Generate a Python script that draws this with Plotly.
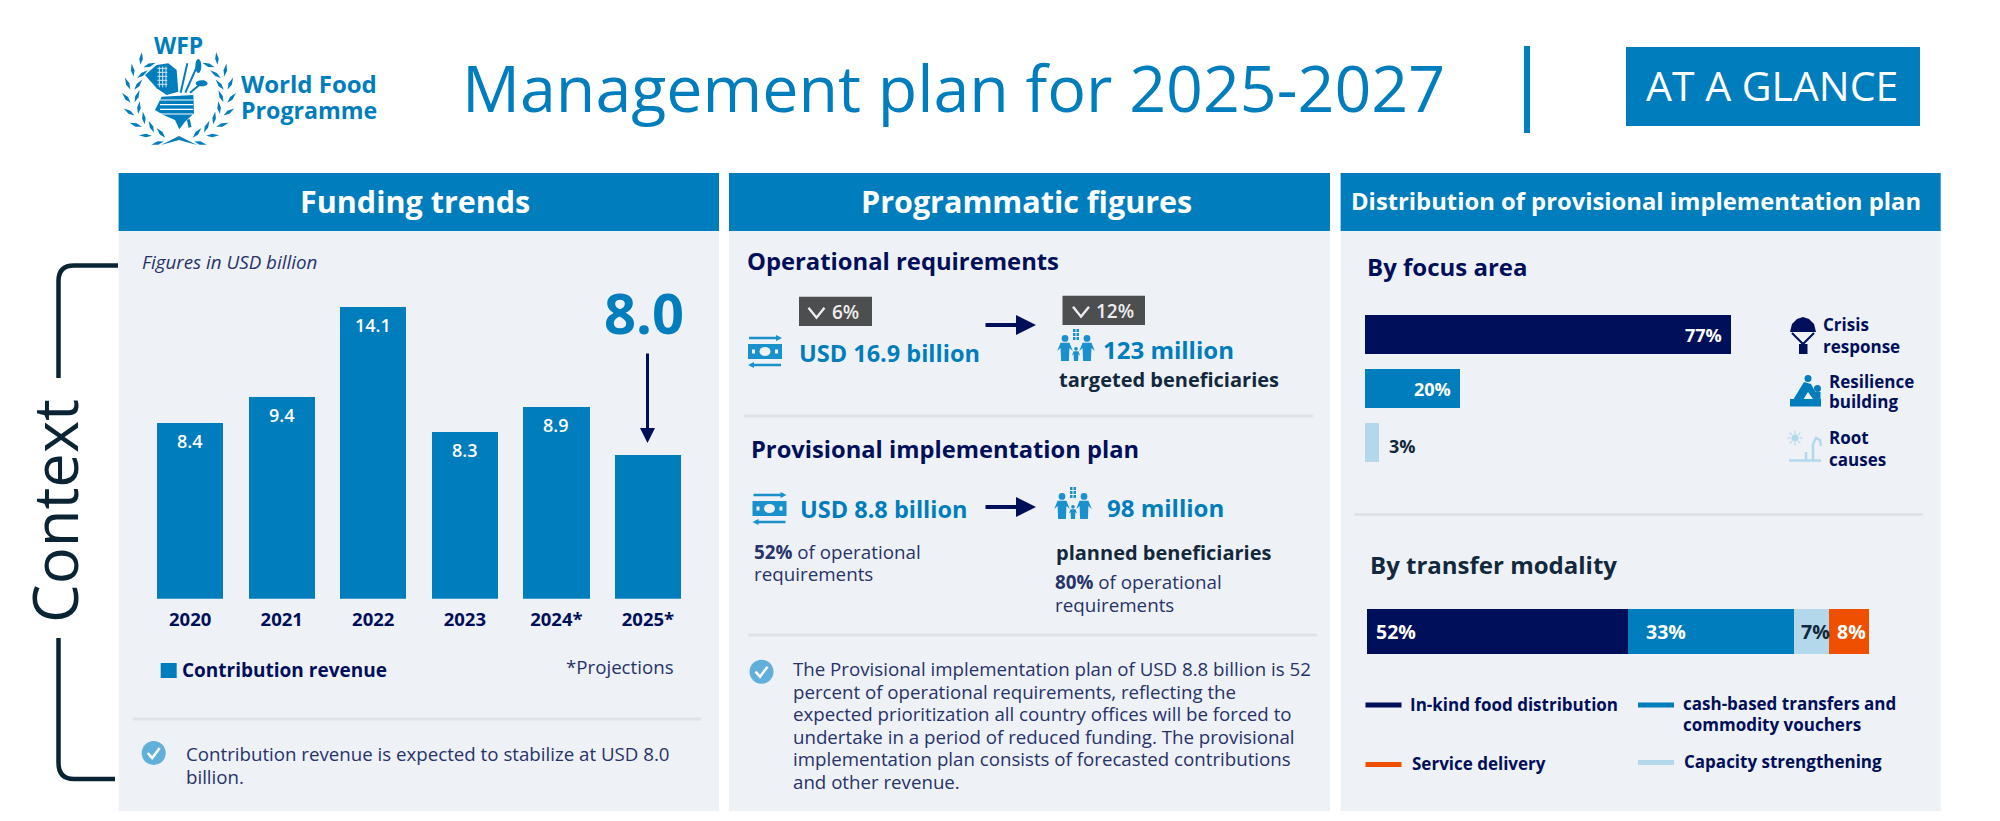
import numpy as np
import plotly.graph_objects as go

W, H = 2000, 821

# funding trends: bar heights as drawn, labels as printed (bars are not to scale in the source)
years = ['2020', '2021', '2022', '2023', '2024*', '2025*']
revenue_heights = [8.5, 9.76, 14.08, 8.04, 9.25, 6.93]
revenue_labels = ['8.4', '9.4', '14.1', '8.3', '8.9', '']
projected_2025 = '8.0'

# focus areas
focus_names = ['Crisis response', 'Resilience building', 'Root causes']
focus_share = [77, 20, 3]

# transfer modality
modality_names = ['In-kind food distribution', 'cash-based transfers and commodity vouchers',
                  'Capacity strengthening', 'Service delivery']
modality_share = [52, 33, 7, 8]

paragraph_lines = [
    'The Provisional implementation plan of USD 8.8 billion is 52',
    'percent of operational requirements, reflecting the',
    'expected prioritization all country offices will be forced to',
    'undertake in a period of reduced funding. The provisional',
    'implementation plan consists of forecasted contributions',
    'and other revenue.',
]

BLUE = '#007dbc'
NAVY = '#000f5a'
LIGHT = '#b3d8ec'
ORANGE = '#ee5000'
PANEL = '#eef1f5'
SEP = '#dfe3e7'
TEXT = '#27336b'
DARK = '#12283c'
ICON = '#1a90cc'
FONT = 'Open Sans'

shapes = []
annotations = []


def fx(x):
    return x / W


def fy(y):
    return 1 - y / H


def rect(x0, y0, x1, y1, color, layer='below'):
    shapes.append(dict(type='rect', xref='paper', yref='paper', x0=fx(x0), x1=fx(x1), y0=fy(y0), y1=fy(y1),
                       fillcolor=color, line_width=0, layer=layer))


def line(x0, y0, x1, y1, color, width=3, layer='above'):
    shapes.append(dict(type='line', xref='paper', yref='paper', x0=fx(x0), x1=fx(x1), y0=fy(y0), y1=fy(y1),
                       line=dict(color=color, width=width), layer=layer))


def circle(cx, cy, r, color, ry=None):
    ry = r if ry is None else ry
    shapes.append(dict(type='circle', xref='paper', yref='paper', x0=fx(cx - r), x1=fx(cx + r),
                       y0=fy(cy - ry), y1=fy(cy + ry), fillcolor=color, line_width=0))


def path(points, color=None, stroke=None, width=0, closed=True):
    d = 'M' + ' L'.join(f'{fx(a):.5f},{fy(b):.5f}' for a, b in points) + (' Z' if closed else '')
    shapes.append(dict(type='path', xref='paper', yref='paper', path=d, fillcolor=color if closed else None,
                       line=dict(color=stroke or 'rgba(0,0,0,0)', width=width)))


def label(x, y, text, size, color=TEXT, weight=400, anchor='left', italic=False, angle=0, family=FONT):
    annotations.append(dict(x=fx(x), y=fy(y), xref='paper', yref='paper', text=text, showarrow=False,
                            xanchor=anchor, yanchor='middle', textangle=angle, borderpad=0, borderwidth=0,
                            font=dict(family=family, size=size, color=color, weight=weight,
                                      style='italic' if italic else 'normal')))


def arrow(x, y, ax, ay, color=NAVY, width=4):
    annotations.append(dict(x=fx(x), y=fy(y), xref='paper', yref='paper', ax=ax, ay=ay, axref='pixel', ayref='pixel',
                            text='', showarrow=True, arrowhead=2, arrowsize=1, arrowwidth=width, arrowcolor=color))


def money_icon(x, y):
    # x, y is top left, about 34 x 34
    line(x + 1, y + 3, x + 31, y + 3, ICON, 2.5)
    path([(x + 28, y), (x + 34, y + 3), (x + 28, y + 6)], ICON)
    rect(x, y + 9, x + 34, y + 24, ICON, 'above')
    circle(x + 17, y + 16.5, 5.5, PANEL, 4.5)
    rect(x + 4, y + 14.5, x + 7, y + 18.5, PANEL, 'above')
    rect(x + 27, y + 14.5, x + 30, y + 18.5, PANEL, 'above')
    line(x + 3, y + 30, x + 33, y + 30, ICON, 2.5)
    path([(x + 6, y + 27), (x, y + 30), (x + 6, y + 33)], ICON)


def person(cx, top, h, color):
    r = h * 0.13
    circle(cx, top + r, r, color)
    path([(cx - h * .3, top + h * .62), (cx - h * .17, top + h * .3), (cx + h * .17, top + h * .3),
          (cx + h * .3, top + h * .62), (cx + h * .17, top + h * .5), (cx + h * .15, top + h),
          (cx - h * .15, top + h), (cx - h * .17, top + h * .5)], color)


def people_icon(x, y):
    # x, y is top left, about 35 x 32
    person(x + 6, y + 6, 26, ICON)
    person(x + 28, y + 6, 26, ICON)
    person(x + 17, y + 18, 14, ICON)
    for i in range(3):
        rect(x + 14, y + i * 4, x + 20, y + i * 4 + 3, ICON, 'above')
    line(x + 17, y, x + 17, y + 12, PANEL, 1)


def check_icon(cx, cy):
    circle(cx, cy, 12, '#62afdb')
    path([(cx - 6, cy), (cx - 1.5, cy + 5), (cx + 6, cy - 5)], stroke='white', width=2.5, closed=False)


def badge(x0, y0, x1, y1, chev_x, text, text_x):
    rect(x0, y0, x1, y1, '#4c4e4f', 'above')
    path([(chev_x, y0 + 11), (chev_x + 8, y0 + 21), (chev_x + 16, y0 + 11)], stroke='#eeeeee', width=2.4, closed=False)
    label(text_x, (y0 + y1) / 2 + 0.5, text, 19, '#eeeeee', 600)


# ----- logo -----
def logo():
    cx, cy, r = 179, 95, 47
    for side in (-1, 1):
        for deg in np.linspace(-38, 72, 8):
            a = np.radians(deg)
            px_, py_ = cx + side * r * np.cos(a), cy + r * np.sin(a)
            tx, ty = side * np.sin(a), -np.cos(a)
            for twist, off in ((0.55, 2), (-0.55, -2)):
                dx = tx * np.cos(twist) - side * ty * np.sin(twist)
                dy = ty * np.cos(twist) + side * tx * np.sin(twist)
                ox, oy = px_ + side * off * np.cos(a), py_ + off * np.sin(a)
                path([(ox, oy), (ox + dx * 6 - dy * 1.8, oy + dy * 6 + dx * 1.8), (ox + dx * 13, oy + dy * 13),
                      (ox + dx * 6 + dy * 1.8, oy + dy * 6 - dx * 1.8)], BLUE)
    path([(161, 145), (179, 136), (197, 145), (179, 140)], BLUE)

    def z(a, b):
        return 110 + a / 3, 30 + b / 3

    path([z(105, 135), z(140, 105), z(175, 100), z(200, 120), z(205, 185), z(170, 195), z(140, 175)], BLUE)
    for b in range(115, 175, 12):
        line(*z(142, b), *z(172, b), '#cfe5f2', 1, 'above')
    for a in range(148, 172, 10):
        line(*z(a, 110), *z(a, 172), '#cfe5f2', 1, 'above')
    for pts in ([(212, 188), (232, 100)], [(226, 188), (265, 100)], [(240, 188), (283, 152)]):
        line(*z(*pts[0]), *z(*pts[1]), BLUE, 2)
    circle(*z(265, 108), 3, BLUE, 7)
    circle(*z(275, 160), 6, BLUE, 3)
    path([z(135, 240), z(155, 200), z(250, 195), z(252, 250), z(225, 275), z(208, 298), z(195, 270), z(160, 255)], BLUE)
    for b in (210, 224, 238, 252):
        line(*z(150, b), *z(250, b), 'white', 1.2, 'above')
    line(*z(235, 268), *z(240, 292), BLUE, 3)


logo()
label(178.5, 45, 'WFP', 23, BLUE, 700, 'center')
label(241, 84, 'World Food', 24, BLUE, 700)
label(241, 110, 'Programme', 23.2, BLUE, 700)

# ----- title row -----
label(462, 87, 'Management plan for 2025-2027', 64.5, BLUE, 400)
rect(1524, 46, 1530, 133, BLUE)
rect(1626, 47, 1920, 126, BLUE)
label(1772, 85, 'AT A GLANCE', 41, 'white', 400, 'center')

# ----- panels -----
for x0, x1, tx, title, size in [(118.6, 719, 414.5, 'Funding trends', 30.5),
                                (729, 1330, 1026, 'Programmatic figures', 30.5),
                                (1340.6, 1940.7, 1636, 'Distribution of provisional implementation plan', 23.8)]:
    rect(x0, 231, x1, 811, PANEL)
    rect(x0, 173, x1, 231, BLUE)
    label(tx, 201, title, size, 'white', 700, 'center')

# ----- context bracket -----
BR = '#0b2433'
def bracket(points):
    d = points
    shapes.append(dict(type='path', xref='paper', yref='paper', path=d, line=dict(color=BR, width=4.5), layer='below'))


bracket(f'M{fx(118)},{fy(265.5)} L{fx(74)},{fy(265.5)} Q{fx(58.5)},{fy(265.5)} {fx(58.5)},{fy(281)} L{fx(58.5)},{fy(378)}')
bracket(f'M{fx(115)},{fy(779)} L{fx(74)},{fy(779)} Q{fx(58.5)},{fy(779)} {fx(58.5)},{fy(763)} L{fx(58.5)},{fy(638)}')
label(54, 511, 'Context', 61.5, BR, 400, 'center', angle=-90)

# ----- funding panel -----
label(141.5, 262, 'Figures in USD billion', 18.8, TEXT, 400, italic=True)
label(643.5, 312, projected_2025, 56, BLUE, 700, 'center')
arrow(647.5, 443, 0, -91, NAVY, 3)
rect(160.7, 663, 176.7, 678, BLUE)
label(182, 670, 'Contribution revenue', 19, NAVY, 700)
label(566, 666, '*Projections', 18.7, TEXT)
rect(133, 717.5, 701.5, 720.5, SEP)
check_icon(153.7, 753)
label(185.5, 753.5, 'Contribution revenue is expected to stabilize at USD 8.0', 18.7, TEXT)
label(185.5, 776, 'billion.', 18.7, TEXT)

# ----- programmatic panel -----
label(747, 261, 'Operational requirements', 23.8, NAVY, 700)
badge(799, 296.7, 872, 326, 808.5, '6%', 831.5)
money_icon(748, 335)
label(798.5, 353, 'USD 16.9 billion', 23.5, BLUE, 700)
arrow(1036, 325, -52, 0)
badge(1062.5, 295.7, 1145, 325, 1073, '12%', 1096)
people_icon(1059, 329)
label(1103, 349, '123 million', 24, BLUE, 700)
label(1058.5, 380, 'targeted beneficiaries', 20, DARK, 700)
rect(744, 414.5, 1313, 417.5, SEP)

label(750.5, 449, 'Provisional implementation plan', 23.7, NAVY, 700)
money_icon(752.5, 492)
label(800, 509, 'USD 8.8 billion', 23.5, BLUE, 700)
arrow(1036, 507, -52, 0)
people_icon(1056, 487)
label(1107, 508, '98 million', 24, BLUE, 700)
label(753.5, 552, '<b>52%</b> of operational', 18.8)
label(753.5, 574, 'requirements', 18.8)
label(1056, 552, 'planned beneficiaries', 20, DARK, 700)
label(1055, 582, '<b>80%</b> of operational', 18.8)
label(1055, 605, 'requirements', 18.8)
rect(748, 633.5, 1317, 636.5, SEP)
check_icon(761.5, 671.7)
for i, txt in enumerate(paragraph_lines):
    label(792.5, 668.5 + i * 22.5, txt, 18.7)

# ----- distribution panel -----
label(1366.5, 266.5, 'By focus area', 24, NAVY, 700)

# parachute
path([(1790, 332), (1792, 324), (1797, 319), (1803, 317), (1809, 319), (1814, 324), (1816, 332)], NAVY)
path([(1792, 333), (1803, 344), (1814, 333)], stroke=NAVY, width=2, closed=False)
rect(1799, 344, 1807.5, 354, NAVY, 'above')
label(1822.5, 324, 'Crisis', 17, NAVY, 700)
label(1822.5, 346, 'response', 17, NAVY, 700)

# resilience
rect(1790, 399, 1821, 406.5, BLUE, 'above')
path([(1793, 400), (1804, 382), (1811, 384), (1818, 397), (1813, 399), (1808, 392), (1803, 400)], BLUE)
circle(1808, 378.5, 3.5, BLUE)
circle(1817.5, 388.5, 3.5, BLUE)
rect(1813.5, 392, 1820.5, 399, BLUE, 'above')
label(1829, 381, 'Resilience', 17, NAVY, 700)
label(1829, 402, 'building', 17, NAVY, 700)

# root causes
line(1789, 460.5, 1821, 460.5, LIGHT, 2.5)
line(1813, 460, 1813, 444, LIGHT, 2.5)
path([(1813, 444), (1816, 438), (1820, 440), (1821, 446)], stroke=LIGHT, width=2.5, closed=False)
line(1806, 460, 1806, 452, LIGHT, 2.5)
circle(1795, 438, 3.5, LIGHT)
for deg in range(0, 360, 45):
    a = np.radians(deg)
    line(1795 + 4.5 * np.cos(a), 438 + 4.5 * np.sin(a), 1795 + 7.5 * np.cos(a), 438 + 7.5 * np.sin(a), LIGHT, 1.2)
label(1829, 437.5, 'Root', 17, NAVY, 700)
label(1829, 459, 'causes', 17, NAVY, 700)

rect(1354.5, 513, 1923, 516, SEP)
label(1370, 564, 'By transfer modality', 24, DARK, 700)

for x0, y, color, lines_, tx in [
    (1365.5, 705, NAVY, [('In-kind food distribution', 704.5)], 1409.5),
    (1638, 705, BLUE, [('cash-based transfers and', 703.5), ('commodity vouchers', 724)], 1682.5),
    (1365.5, 764.5, ORANGE, [('Service delivery', 763.5)], 1411.5),
    (1638, 762.5, LIGHT, [('Capacity strengthening', 761.5)], 1683.5),
]:
    rect(x0, y - 2.5, x0 + 36, y + 2.5, color)
    for txt, ty in lines_:
        label(tx, ty, txt, 17, NAVY, 700)

# ----- charts -----
fig = go.Figure()

fig.add_trace(go.Bar(x=years, y=revenue_heights, marker=dict(color=BLUE, line_width=0), width=0.725,
                     xaxis='x', yaxis='y'))
for i, (v, t) in enumerate(zip(revenue_heights, revenue_labels)):
    if t:
        # category axis: annotation x goes by index, '2021' would be read as a number
        annotations.append(dict(x=i, y=v, xref='x', yref='y', yshift=-18, text=t, showarrow=False,
                                font=dict(family=FONT, size=18, color='white', weight=600)))

fig.add_trace(go.Bar(y=focus_names, x=focus_share, orientation='h', width=0.725,
                     marker=dict(color=[NAVY, BLUE, LIGHT], line_width=0), xaxis='x2', yaxis='y2'))
for name, v in zip(focus_names, focus_share):
    small = v < 10
    annotations.append(dict(x=v, y=name, xref='x2', yref='y2', xanchor='left' if small else 'right',
                            xshift=8 if small else -7, yshift=-3 if small else 0, text=f'{v}%', showarrow=False,
                            font=dict(family=FONT, size=18, color=DARK if small else 'white', weight=700)))

seg_colors = [NAVY, BLUE, LIGHT, ORANGE]
seg_pad = [7, 16, 5, 6]
start = 0
for name, v, c, pad in zip(modality_names, modality_share, seg_colors, seg_pad):
    fig.add_trace(go.Bar(y=['share'], x=[v], orientation='h', width=1, name=name,
                         marker=dict(color=c, line_width=0), xaxis='x3', yaxis='y3'))
    annotations.append(dict(x=start, y='share', xref='x3', yref='y3', xanchor='left', xshift=pad, text=f'{v}%',
                            showarrow=False,
                            font=dict(family=FONT, size=19.5, color=DARK if c == LIGHT else 'white', weight=700)))
    start += v

hidden = dict(visible=False, showgrid=False, zeroline=False, fixedrange=True, automargin=False)
fig.update_layout(
    width=W, height=H,
    margin=dict(l=0, r=0, t=0, b=0, autoexpand=False),
    paper_bgcolor='white', plot_bgcolor='rgba(0,0,0,0)',
    barmode='stack', showlegend=False,
    xaxis=dict(domain=[fx(144.4), fx(693.7)], showgrid=False, zeroline=False, showline=False, type='category',
               range=[-0.5, 5.5], automargin=False,
               ticks='outside', ticklen=4, tickcolor='rgba(0,0,0,0)',
               tickfont=dict(family=FONT, size=18.5, color=NAVY, weight=700)),
    yaxis=dict(hidden, domain=[fy(598.7), fy(598.7 - 15 * 20.7)], range=[0, 15]),
    xaxis2=dict(hidden, domain=[fx(1364.8), fx(1840.1)], range=[0, 100]),
    yaxis2=dict(hidden, domain=[fy(469.5), fy(307.5)], autorange='reversed', anchor='x2'),
    xaxis3=dict(hidden, domain=[fx(1366.7), fx(1869.3)], range=[0, 100]),
    yaxis3=dict(hidden, domain=[fy(654), fy(609)], range=[-0.5, 0.5], anchor='x3'),
    shapes=shapes,
    annotations=annotations,
)

fig.write_html('out.html', config={'displayModeBar': False},
               post_script="document.body.style.margin='0';document.body.style.overflow='hidden';")
